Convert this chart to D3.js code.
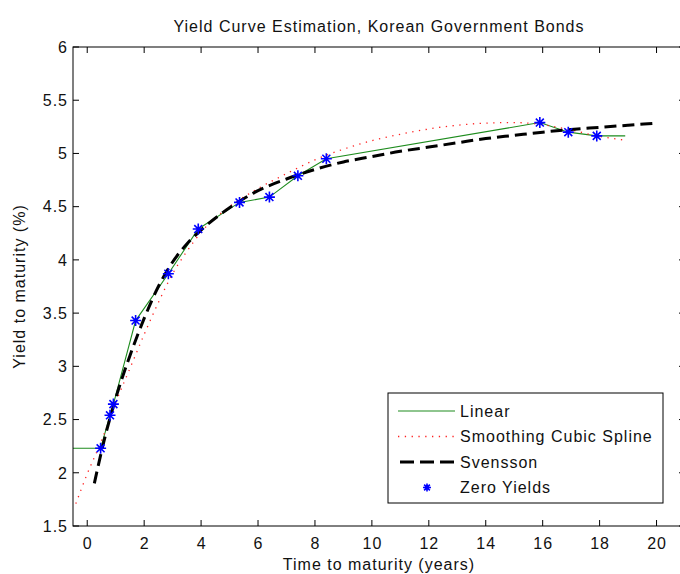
<!DOCTYPE html>
<html lang="en">
<head>
    <meta charset="UTF-8">
    <title>Yield Curve Estimation</title>
    <script src="https://d3js.org/d3.v7.min.js"></script>
    <style>
        body { margin: 0; background: #fff; }
        svg { display: block; overflow: hidden; }
        text { font-family: Arial, "Liberation Sans", sans-serif; font-size: 16px; fill: #111; letter-spacing: 1px; }
        .frame { fill: none; stroke: #000; stroke-width: 1px; }
        .tick-mark { stroke: #000; stroke-width: 1px; }
    </style>
</head>
<body>
<svg width="680" height="574"></svg>
<script>
    // zero yields (maturity in years, yield in %)
    const zeroMaturity = [0.47, 0.8, 0.92, 1.7, 2.85, 3.9, 5.35, 6.4, 7.4, 8.4, 15.9, 16.9, 17.9];
    const zeroYield    = [2.23, 2.54, 2.645, 3.43, 3.87, 4.29, 4.54, 4.59, 4.79, 4.95, 5.29, 5.2, 5.165];

    // linear interpolation line, flat at both ends
    const linearMaturity = [-0.5, 0.47, 0.8, 0.92, 1.7, 2.85, 3.9, 5.35, 6.4, 7.4, 8.4, 15.9, 16.9, 17.9, 18.9];
    const linearYield    = [2.23, 2.23, 2.54, 2.645, 3.43, 3.87, 4.29, 4.54, 4.59, 4.79, 4.95, 5.29, 5.2, 5.165, 5.165];

    // smoothing cubic spline
    const splineMaturity = [-0.4, 0, 0.5, 1, 1.5, 2, 2.5, 3, 3.5, 4, 5, 6, 7, 8, 9, 10, 11, 12, 13, 14, 15, 16, 17, 18, 18.9];
    const splineYield    = [1.71, 1.99, 2.3, 2.66, 2.98, 3.3, 3.6, 3.87, 4.08, 4.26, 4.5, 4.67, 4.81, 4.94, 5.04, 5.12, 5.18, 5.23, 5.265, 5.285, 5.29, 5.27, 5.22, 5.16, 5.125];

    // Svensson fit
    const svenMaturity = [0.25, 0.5, 1, 1.5, 2, 2.5, 3, 3.5, 4, 5, 6, 7, 8, 9, 10, 11, 12, 13, 14, 15, 16, 17, 18, 19, 20];
    const svenYield    = [1.9, 2.2, 2.7, 3.1, 3.45, 3.75, 3.98, 4.15, 4.28, 4.49, 4.65, 4.76, 4.85, 4.92, 4.97, 5.02, 5.06, 5.1, 5.14, 5.17, 5.2, 5.225, 5.245, 5.265, 5.285];

    const xTicks = [0, 2, 4, 6, 8, 10, 12, 14, 16, 18, 20];
    const yTicks = [1.5, 2, 2.5, 3, 3.5, 4, 4.5, 5, 5.5, 6];

    const svg = d3.select("svg");
    const plotLeft = 73, plotRight = 685, plotTop = 47, plotBottom = 526;

    const x = d3.scaleLinear().domain([-0.5, 21]).range([plotLeft, plotRight]);
    const y = d3.scaleLinear().domain([1.5, 6]).range([plotBottom, plotTop]);

    const zip = (xs, ys) => xs.map((d, i) => [d, ys[i]]);
    const line = d3.line().x(d => x(d[0])).y(d => y(d[1]));
    const curve = d3.line().x(d => x(d[0])).y(d => y(d[1])).curve(d3.curveMonotoneX);

    // ticks on all four sides, pointing inwards
    const tl = 6;
    svg.append("g").selectAll("line").data(xTicks).enter().append("line")
        .attr("class", "tick-mark")
        .attr("x1", d => x(d)).attr("x2", d => x(d))
        .attr("y1", plotBottom).attr("y2", plotBottom - tl);
    svg.append("g").selectAll("line").data(xTicks).enter().append("line")
        .attr("class", "tick-mark")
        .attr("x1", d => x(d)).attr("x2", d => x(d))
        .attr("y1", plotTop).attr("y2", plotTop + tl);
    svg.append("g").selectAll("line").data(yTicks).enter().append("line")
        .attr("class", "tick-mark")
        .attr("x1", plotLeft).attr("x2", plotLeft + tl)
        .attr("y1", d => y(d)).attr("y2", d => y(d));
    svg.append("g").selectAll("line").data(yTicks).enter().append("line")
        .attr("class", "tick-mark")
        .attr("x1", plotRight).attr("x2", plotRight - tl)
        .attr("y1", d => y(d)).attr("y2", d => y(d));

    svg.append("g").selectAll("text").data(xTicks).enter().append("text")
        .attr("x", d => x(d) + 0.5).attr("y", 549)
        .attr("text-anchor", "middle")
        .text(d => d);
    svg.append("g").selectAll("text").data(yTicks).enter().append("text")
        .attr("x", 68).attr("y", d => y(d))
        .attr("dy", "0.36em")
        .attr("text-anchor", "end")
        .text(d => d);

    const plot = svg.append("g");

    plot.append("path")
        .datum(zip(linearMaturity, linearYield))
        .attr("d", line)
        .attr("fill", "none")
        .attr("stroke", "#1e8c1e")
        .attr("stroke-width", 1.1);

    plot.append("path")
        .datum(zip(splineMaturity, splineYield))
        .attr("d", curve)
        .attr("fill", "none")
        .attr("stroke", "#ff2020")
        .attr("stroke-width", 1.3)
        .attr("stroke-dasharray", "1.3,5.5");

    plot.append("path")
        .datum(zip(svenMaturity, svenYield))
        .attr("d", curve)
        .attr("fill", "none")
        .attr("stroke", "#000")
        .attr("stroke-width", 3)
        .attr("stroke-dasharray", "12,6");

    function star(g, r) {
        g.append("path")
            .attr("d", `M${-r},0H${r}M0,${-r}V${r}M${-r * 0.72},${-r * 0.72}L${r * 0.72},${r * 0.72}M${-r * 0.72},${r * 0.72}L${r * 0.72},${-r * 0.72}`)
            .attr("stroke", "#0000ff")
            .attr("stroke-width", 1.6)
            .attr("fill", "none");
    }

    plot.selectAll(".zero")
        .data(zip(zeroMaturity, zeroYield))
        .enter().append("g")
        .attr("class", "zero")
        .attr("transform", d => `translate(${x(d[0])},${y(d[1])})`)
        .each(function () { star(d3.select(this), 5.5); });

    // axes frame
    svg.append("rect")
        .attr("class", "frame")
        .attr("x", plotLeft).attr("y", plotTop)
        .attr("width", plotRight - plotLeft).attr("height", plotBottom - plotTop);

    // legend
    const legendItems = ["Linear", "Smoothing Cubic Spline", "Svensson", "Zero Yields"];
    const legend = svg.append("g").attr("transform", "translate(388,393)");
    legend.append("rect")
        .attr("width", 275).attr("height", 110)
        .attr("fill", "#fff").attr("stroke", "#000").attr("stroke-width", 1);
    const rowY = i => 18 + i * 25.5;
    legend.append("line").attr("x1", 10).attr("x2", 67).attr("y1", rowY(0)).attr("y2", rowY(0))
        .attr("stroke", "#1e8c1e").attr("stroke-width", 1.1);
    legend.append("line").attr("x1", 10).attr("x2", 67).attr("y1", rowY(1)).attr("y2", rowY(1))
        .attr("stroke", "#ff2020").attr("stroke-width", 1.3).attr("stroke-dasharray", "1.3,5.5");
    legend.append("line").attr("x1", 12).attr("x2", 67).attr("y1", rowY(2)).attr("y2", rowY(2))
        .attr("stroke", "#000").attr("stroke-width", 3).attr("stroke-dasharray", "14,6");
    star(legend.append("g").attr("transform", `translate(39,${rowY(3)})`), 4);
    legend.selectAll("text.item").data(legendItems).enter().append("text")
        .attr("class", "item")
        .attr("x", 72).attr("y", (d, i) => rowY(i))
        .attr("dy", "0.36em")
        .text(d => d);

    // titles
    svg.append("text")
        .attr("x", (plotLeft + plotRight) / 2).attr("y", 32)
        .attr("text-anchor", "middle")
        .text("Yield Curve Estimation, Korean Government Bonds");
    svg.append("text")
        .attr("x", (plotLeft + plotRight) / 2).attr("y", 570)
        .attr("text-anchor", "middle")
        .text("Time to maturity (years)");
    svg.append("text")
        .attr("transform", `translate(25,${(plotTop + plotBottom) / 2}) rotate(-90)`)
        .attr("text-anchor", "middle")
        .text("Yield to maturity (%)");
</script>
</body>
</html>
